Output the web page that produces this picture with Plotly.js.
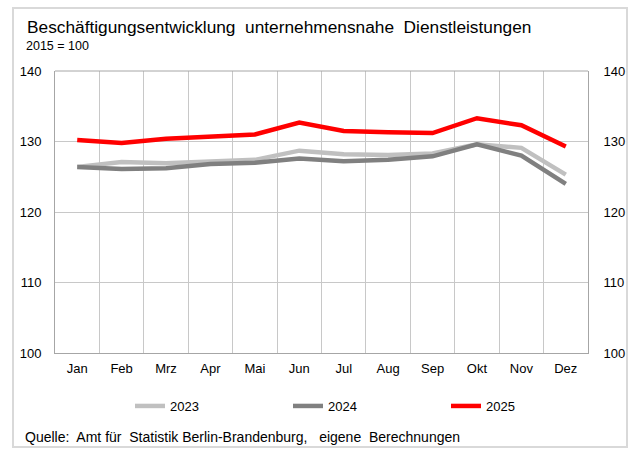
<!DOCTYPE html>
<html><head><meta charset="utf-8">
<script src="https://cdn.plot.ly/plotly-3.0.1.min.js"></script>
<style>html,body{margin:0;padding:0;background:#fff}#chart{width:629px;height:449px}</style>
</head><body><div id="chart"></div>
<script>
const months = ["Jan","Feb","Mrz","Apr","Mai","Jun","Jul","Aug","Sep","Okt","Nov","Dez"];
const v2023 = [126.4,127.1,126.9,127.1,127.4,128.7,128.2,128.1,128.3,129.6,129.1,125.3];
const v2024 = [126.4,126.1,126.2,126.8,127.0,127.6,127.2,127.4,127.9,129.6,128.0,124.0];
const v2025 = [130.2,129.8,130.4,130.7,131.0,132.7,131.5,131.3,131.2,133.3,132.3,129.3];
const yTicks = [100,110,120,130,140];

const F = "Liberation Sans, Arial, sans-serif";
const traces = [
  {x:months,y:v2023,name:"2023",type:"scatter",mode:"lines",line:{color:"#C0C0C0",width:4.5}},
  {x:months,y:v2024,name:"2024",type:"scatter",mode:"lines",line:{color:"#808080",width:4.5}},
  {x:months,y:v2025,name:"2025",type:"scatter",mode:"lines",line:{color:"#FF0000",width:4.5},yaxis:"y2"}
];
const L = 55, R = 588, T = 71, B = 353;
const pw = R-L, ph = B-T;
const px = x => (x-L)/pw, py = y => (B-y)/ph;
const layout = {
  width:629,height:449,
  margin:{l:L,r:629-R,t:T,b:449-B,pad:0},
  paper_bgcolor:"#fff",plot_bgcolor:"#fff",
  font:{family:F,size:13,color:"#000"},
  showlegend:true,
  legend:{orientation:"h",x:px(130),xanchor:"left",y:py(391),yanchor:"top",
    entrywidth:113,entrywidthmode:"pixels",itemwidth:30,font:{family:F,size:13,color:"#000"},
    bgcolor:"rgba(0,0,0,0)",tracegroupgap:0},
  xaxis:{type:"category",range:[-0.5,11.5],tickson:"boundaries",showgrid:true,gridcolor:"#C8C8C8",gridwidth:1,
    ticks:"",showline:true,linecolor:"#A6A6A6",linewidth:1,mirror:false,zeroline:false,
    tickfont:{family:F,size:13,color:"#000"},ticklabelstandoff:3,fixedrange:true},
  yaxis:{range:[100,140],tickvals:yTicks,ticktext:yTicks.map(String),showgrid:true,gridcolor:"#C8C8C8",gridwidth:1,
    ticks:"",showline:true,linecolor:"#A6A6A6",linewidth:1,zeroline:false,
    tickfont:{family:F,size:13,color:"#000"},ticklabelstandoff:10,fixedrange:true},
  yaxis2:{range:[100,140],tickvals:yTicks,ticktext:yTicks.map(String),overlaying:"y",side:"right",showgrid:false,
    ticks:"",showline:true,linecolor:"#A6A6A6",linewidth:1,zeroline:false,
    tickfont:{family:F,size:13,color:"#000"},ticklabelstandoff:12,fixedrange:true},
  shapes:[
    {type:"rect",xref:"paper",yref:"paper",x0:px(13),x1:px(627),y0:py(447),y1:py(8),line:{color:"#D9D9D9",width:2},fillcolor:"rgba(0,0,0,0)",layer:"below"},
    {type:"line",xref:"paper",yref:"paper",x0:0,x1:1,y0:1,y1:1,line:{color:"#A6A6A6",width:1}}
  ],
  annotations:[
    {xref:"paper",yref:"paper",x:px(25),y:py(27),xanchor:"left",yanchor:"middle",showarrow:false,
      text:"Beschäftigungsentwicklung  unternehmensnahe  Dienstleistungen",font:{family:F,size:17.3,color:"#000"}},
    {xref:"paper",yref:"paper",x:px(24),y:py(46),xanchor:"left",yanchor:"middle",showarrow:false,
      text:"2015 = 100",font:{family:F,size:12.5,color:"#000"}},
    {xref:"paper",yref:"paper",x:px(23),y:py(437),xanchor:"left",yanchor:"middle",showarrow:false,
      text:"Quelle:  Amt für  Statistik Berlin-Brandenburg,   eigene  Berechnungen",font:{family:F,size:14,color:"#000"}}
  ]
};
Plotly.newPlot("chart",traces,layout,{displayModeBar:false,staticPlot:true});
</script></body></html>
